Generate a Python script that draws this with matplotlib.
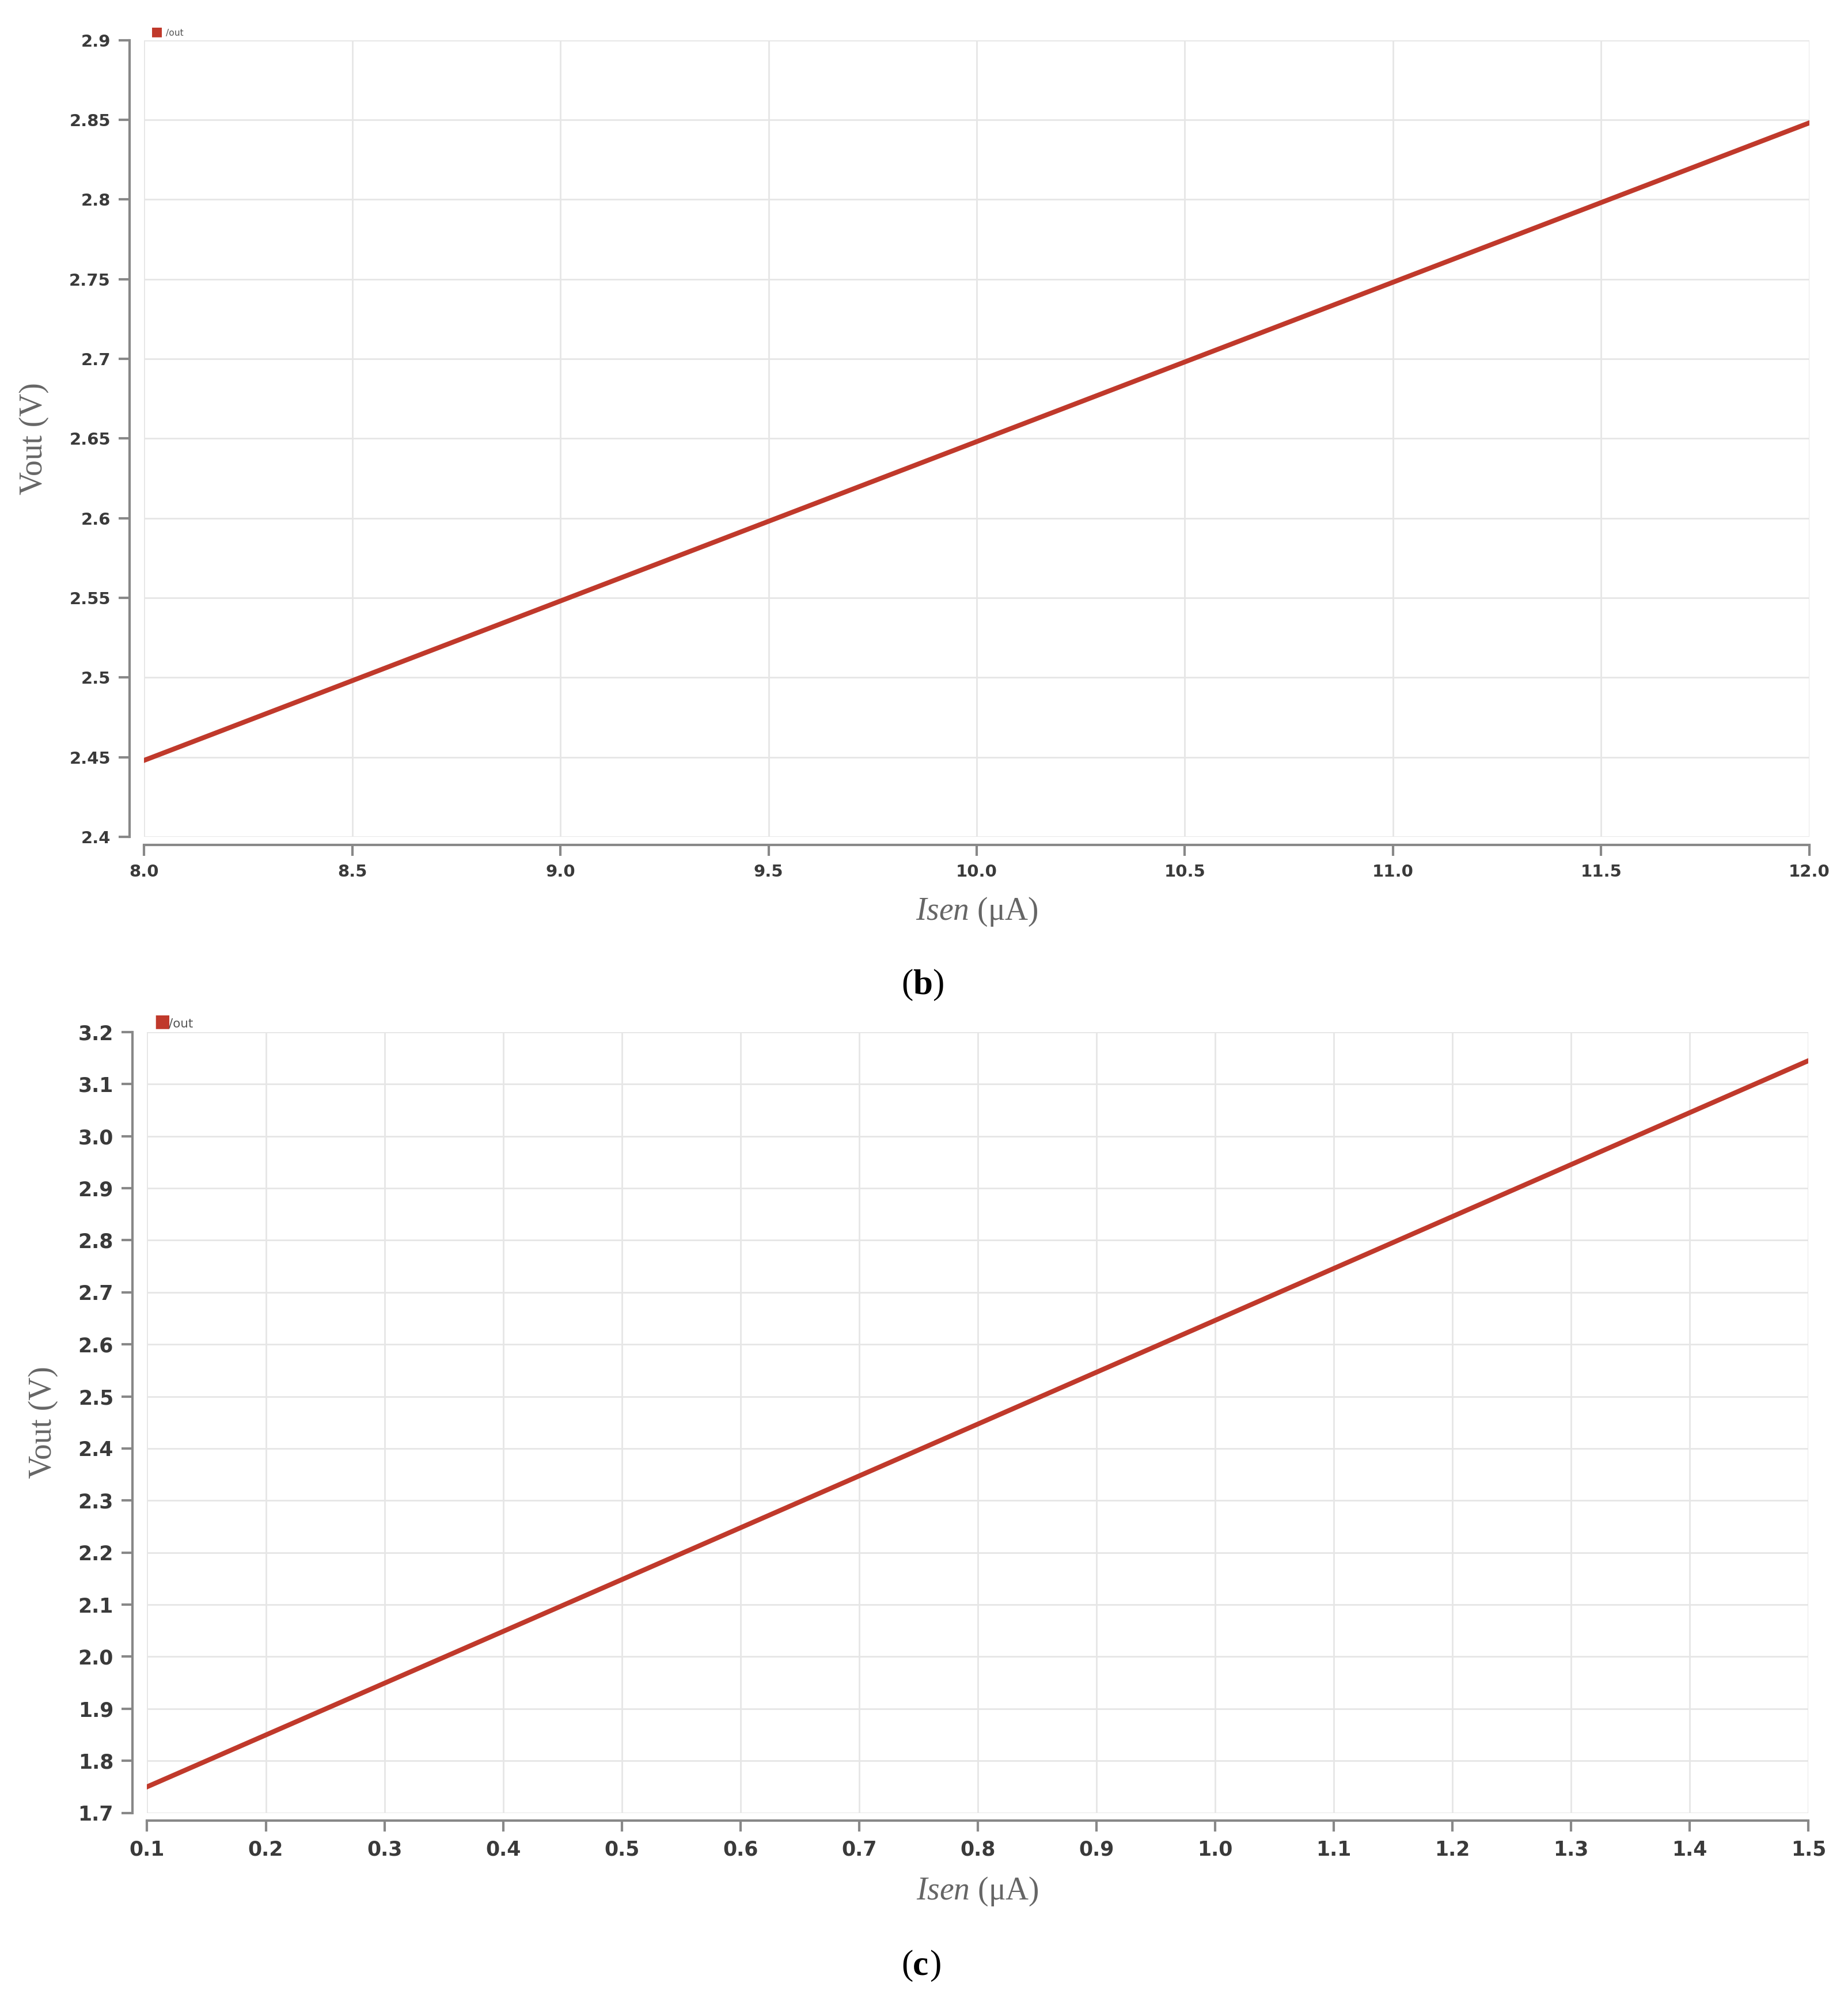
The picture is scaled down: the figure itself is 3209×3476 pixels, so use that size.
import numpy as np
import matplotlib.pyplot as plt

plt.rcParams["mathtext.fontset"] = "custom"
plt.rcParams["mathtext.it"] = "Liberation Serif:italic"
plt.rcParams["mathtext.rm"] = "Liberation Serif"

# panel (b)
isen_b = [8.0, 9.0, 10.0, 11.0, 12.0]
vout_b = [2.448, 2.548, 2.648, 2.748, 2.848]
yticks_b = [2.4, 2.45, 2.5, 2.55, 2.6, 2.65, 2.7, 2.75, 2.8, 2.85, 2.9]
xticks_b = [8.0, 8.5, 9.0, 9.5, 10.0, 10.5, 11.0, 11.5, 12.0]

# panel (c)
isen_c = [0.1, 0.5, 1.0, 1.5]
vout_c = [1.75, 2.148, 2.646, 3.145]
yticks_c = [1.7, 1.8, 1.9, 2.0, 2.1, 2.2, 2.3, 2.4, 2.5, 2.6, 2.7, 2.8, 2.9, 3.0, 3.1, 3.2]
xticks_c = [0.1, 0.2, 0.3, 0.4, 0.5, 0.6, 0.7, 0.8, 0.9, 1.0, 1.1, 1.2, 1.3, 1.4, 1.5]

RED = "#c0392b"

fig = plt.figure(figsize=(32.09, 34.76), dpi=100)


def style_axes(ax, xlim, ylim, xticks, yticks, xfmt, yfmt, legend_label,
               xsize, ysize, legsize):
    ax.set_xlim(*xlim)
    ax.set_ylim(*ylim)
    ax.set_xticks(xticks)
    ax.set_xticklabels([xfmt(v) for v in xticks])
    ax.set_yticks(yticks)
    ax.set_yticklabels([yfmt(v) for v in yticks])
    ax.grid(True, color="#e6e6e6", linewidth=2)
    for s in ["top", "right"]:
        ax.spines[s].set_visible(False)
    ax.spines["left"].set_position(("outward", 18))
    ax.spines["bottom"].set_position(("outward", 10))
    for s in ["left", "bottom"]:
        ax.spines[s].set_color("#888888")
        ax.spines[s].set_linewidth(3)
    ax.tick_params(length=14, width=3, color="#888888", labelcolor="#3a3a3a", pad=10)
    ax.tick_params(axis="x", labelsize=xsize)
    ax.tick_params(axis="y", labelsize=ysize)
    for t in ax.get_xticklabels() + ax.get_yticklabels():
        t.set_fontweight("bold")
    ax.set_ylabel("Vout (V)", family="Liberation Serif", fontsize=40,
                  color="#666666", labelpad=25)
    ax.set_xlabel(r"$\mathit{Isen}$ (μA)", family="Liberation Serif", fontsize=40,
                  color="#666666", labelpad=20)
    ax.text(0.004, 1.003, "\u25A0", transform=ax.transAxes, color=RED,
            fontsize=legsize, va="bottom")
    ax.text(0.013, 1.003, legend_label, transform=ax.transAxes,
            color="#555555", fontsize=legsize * 0.7, va="bottom")


ax1 = fig.add_axes([0.078, 0.582, 0.901, 0.398])
ax1.plot(isen_b, vout_b, color=RED, linewidth=6)
style_axes(ax1, (8.0, 12.0), (2.4, 2.9), xticks_b, yticks_b,
           lambda v: f"{v:.1f}", lambda v: f"{v:g}", "/out", 21, 21, 16)
fig.text(0.494, 0.508, "(", fontsize=44, family="Liberation Serif", ha="right", va="center")
fig.text(0.494, 0.508, "b", fontsize=44, family="Liberation Serif", fontweight="bold", ha="left", va="center")
fig.text(0.5045, 0.508, ")", fontsize=44, family="Liberation Serif", ha="left", va="center")

ax2 = fig.add_axes([0.0796, 0.0945, 0.899, 0.390])
ax2.plot(isen_c, vout_c, color=RED, linewidth=6)
style_axes(ax2, (0.1, 1.5), (1.7, 3.2), xticks_c, yticks_c,
           lambda v: f"{v:.1f}", lambda v: f"{v:.1f}", "/out", 25, 25, 22)
fig.text(0.494, 0.018, "(", fontsize=44, family="Liberation Serif", ha="right", va="center")
fig.text(0.494, 0.018, "c", fontsize=44, family="Liberation Serif", fontweight="bold", ha="left", va="center")
fig.text(0.503, 0.018, ")", fontsize=44, family="Liberation Serif", ha="left", va="center")

fig.savefig("out.png", dpi=100)
